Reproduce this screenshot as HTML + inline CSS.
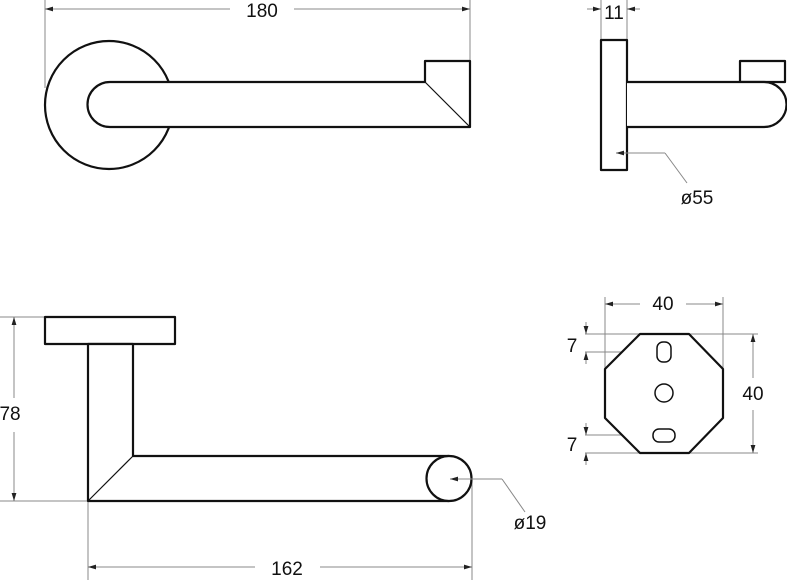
<!DOCTYPE html>
<html><head><meta charset="utf-8"><style>
html,body{margin:0;padding:0;background:#fff;}
svg{display:block;}
text{font-family:"Liberation Sans",sans-serif;font-size:19px;fill:#111;}
</style></head><body>
<svg width="787" height="580" viewBox="0 0 787 580" xmlns="http://www.w3.org/2000/svg">
<defs>
<marker id="a" viewBox="0 0 10 6" refX="10" refY="3" markerWidth="8" markerHeight="5" orient="auto-start-reverse"><path d="M0,0 L10,3 L0,6 z" fill="#222"/></marker>
</defs>
<g stroke="#888" stroke-width="1" fill="none">
<line x1="45" y1="0" x2="45" y2="88"/><line x1="470" y1="0" x2="470" y2="60"/>
<line x1="45" y1="9" x2="230" y2="9" marker-start="url(#a)"/><line x1="294" y1="9" x2="470" y2="9" marker-end="url(#a)"/>
<line x1="601" y1="0" x2="601" y2="40"/><line x1="627" y1="0" x2="627" y2="40"/>
<line x1="587" y1="9" x2="601" y2="9" marker-end="url(#a)"/><line x1="640" y1="9" x2="627" y2="9" marker-end="url(#a)"/>
<line x1="0" y1="317" x2="100" y2="317"/><line x1="0" y1="501" x2="88" y2="501"/>
<line x1="14" y1="398" x2="14" y2="317" marker-end="url(#a)"/><line x1="14" y1="432" x2="14" y2="501" marker-end="url(#a)"/>
<line x1="88" y1="501" x2="88" y2="580"/><line x1="472" y1="480" x2="472" y2="580"/>
<line x1="255" y1="567" x2="88" y2="567" marker-end="url(#a)"/><line x1="320" y1="567" x2="472" y2="567" marker-end="url(#a)"/>
<line x1="605" y1="297" x2="605" y2="370"/><line x1="723" y1="297" x2="723" y2="370"/>
<line x1="640" y1="304" x2="605" y2="304" marker-end="url(#a)"/><line x1="686" y1="304" x2="723" y2="304" marker-end="url(#a)"/>
<line x1="689" y1="334" x2="758" y2="334"/><line x1="689" y1="453" x2="758" y2="453"/>
<line x1="753" y1="378" x2="753" y2="334" marker-end="url(#a)"/><line x1="753" y1="410" x2="753" y2="453" marker-end="url(#a)"/>
<line x1="585" y1="334" x2="642" y2="334"/><line x1="585" y1="352" x2="662" y2="352"/>
<line x1="586" y1="322" x2="586" y2="334" marker-end="url(#a)"/><line x1="586" y1="364" x2="586" y2="352" marker-end="url(#a)"/>
<line x1="585" y1="435" x2="658" y2="435"/><line x1="585" y1="453" x2="642" y2="453"/>
<line x1="586" y1="423" x2="586" y2="435" marker-end="url(#a)"/><line x1="586" y1="465" x2="586" y2="453" marker-end="url(#a)"/>
</g>
<g stroke="#111" stroke-width="2.2" fill="#fff" stroke-linejoin="round">
<circle cx="109" cy="105" r="64"/>
<path d="M110,82 L425,82 L425,61 L470,61 L470,127 L110,127 A22.5,22.5 0 0 1 110,82 Z"/>
<line x1="425" y1="82" x2="470" y2="127" stroke-width="1.2"/>
<rect x="601" y="40" width="26" height="130"/>
<rect x="740" y="61" width="45" height="21"/>
<path d="M627,82 L764,82 A22.5,22.5 0 0 1 764,127 L627,127"/>
<rect x="45" y="317" width="130" height="27"/>
<path d="M88,344 L133,344 L133,456 L449,456 L449,501 L88,501 Z"/>
<line x1="88" y1="501" x2="133" y2="456" stroke-width="1.2"/>
<circle cx="449" cy="478.5" r="22.5"/>
<polygon points="640,334 689,334 723,369 723,418 689,453 640,453 605,418 605,369"/>
<rect x="657" y="342" width="14" height="20" rx="6" stroke-width="1.5"/>
<rect x="653" y="429" width="22" height="13" rx="6" stroke-width="1.5"/>
<circle cx="664" cy="393" r="9" stroke-width="1.5"/>
</g>
<g stroke="#888" stroke-width="1" fill="none">
<polyline points="665,153 687,183"/><line x1="665" y1="153" x2="616" y2="153" marker-end="url(#a)"/>
<polyline points="502,479 525,512"/><line x1="502" y1="479" x2="450" y2="479" marker-end="url(#a)"/>
</g>
<text x="262" y="17" text-anchor="middle">180</text>
<text x="614" y="19" text-anchor="middle">11</text>
<text x="697" y="204" text-anchor="middle">ø55</text>
<text x="10" y="420" text-anchor="middle">78</text>
<text x="287" y="575" text-anchor="middle">162</text>
<text x="530" y="529" text-anchor="middle">ø19</text>
<text x="663" y="310" text-anchor="middle">40</text>
<text x="753" y="400" text-anchor="middle">40</text>
<text x="572" y="352" text-anchor="middle">7</text>
<text x="572" y="451" text-anchor="middle">7</text>
</svg>
</body></html>
